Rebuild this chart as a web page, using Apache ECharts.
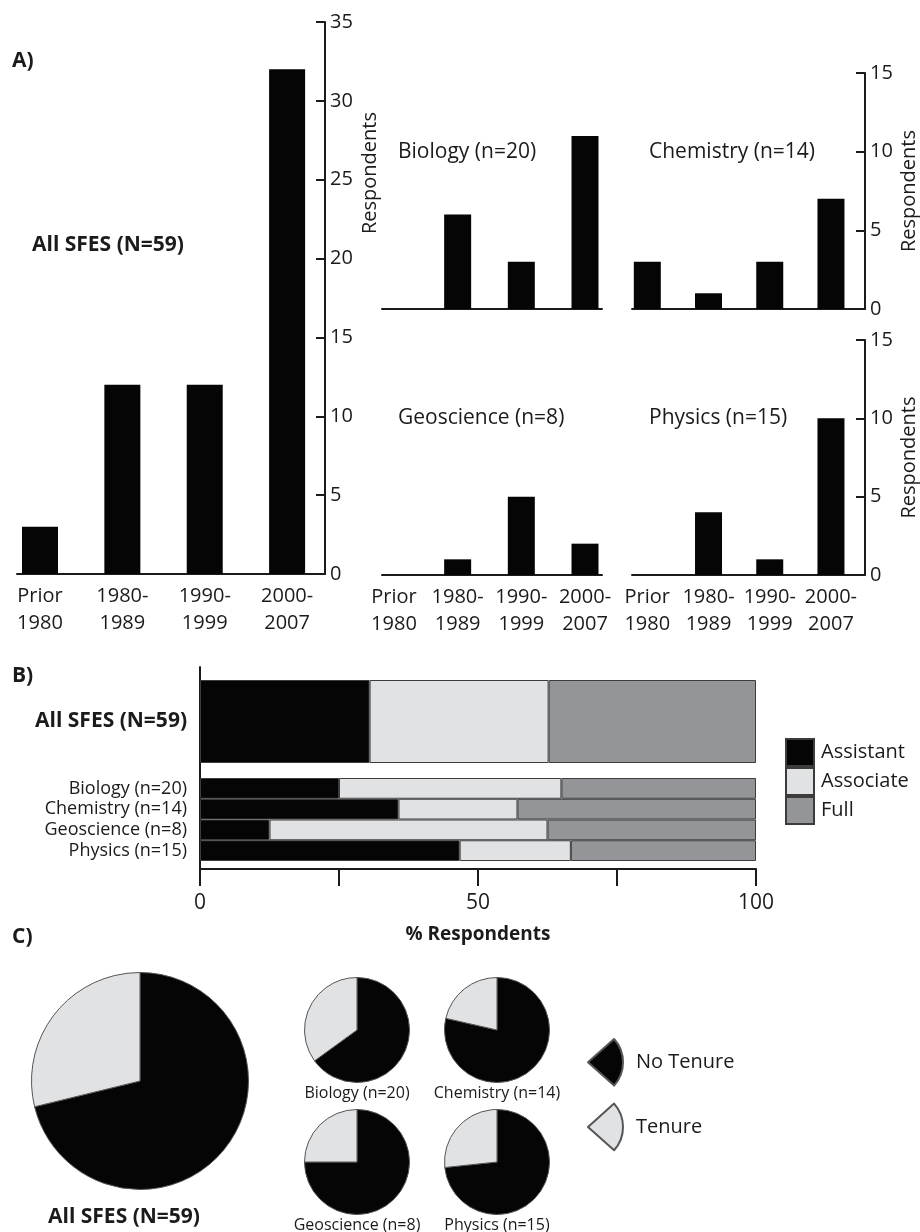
<!DOCTYPE html>
<html>
<head>
<meta charset="utf-8">
<script src="https://cdn.jsdelivr.net/npm/echarts@6/dist/echarts.min.js"></script>
<style>
html,body{margin:0;padding:0;background:#fff;}
#chart{width:920px;height:1232px;}
</style>
</head>
<body>
<div id="chart"></div>
<script>
// ---------- data ----------
const periods = ['Prior\n1980', '1980-\n1989', '1990-\n1999', '2000-\n2007'];
const allSfes = [3, 12, 12, 32];
const biology = [0, 6, 3, 11];
const chemistry = [3, 1, 3, 7];
const geoscience = [0, 1, 5, 2];
const physics = [0, 4, 1, 10];

const disciplineNames = ['Biology', 'Chemistry', 'Geoscience', 'Physics'];
const disciplineN = [20, 14, 8, 15];
const totalN = 59;

const rankNames = ['Assistant', 'Associate', 'Full'];
const assistantAll = [30.5];
const associateAll = [32.2];
const fullAll = [37.3];
const assistantDisc = [25, 35.7, 12.5, 46.7];
const associateDisc = [40, 21.4, 50, 20];
const fullDisc = [35, 42.9, 37.5, 33.3];

const tenureNames = ['No Tenure', 'Tenure'];
const tenureAll = [42, 17];
const tenureBiology = [13, 7];
const tenureChemistry = [11, 3];
const tenureGeoscience = [6, 2];
const tenurePhysics = [11, 4];

const pctTicks = [0, 50, 100];

// ---------- styling ----------
const FONT = 'Open Sans';
const INK = '#1c1a1a';
const BLACK = '#050505';
const LIGHT = '#e1e2e4';
const MID = '#939598';
const EDGE = '#3c3c3c';

const allLabel = 'All SFES (N=' + totalN + ')';
const discLabels = disciplineNames.map((d, i) => d + ' (n=' + disciplineN[i] + ')');

function periodAxis(gridIndex, min, max, showLabels) {
  return {
    type: 'value', gridIndex, min, max,
    axisLine: {show: true, onZero: true, lineStyle: {color: INK, width: 2}},
    axisTick: {show: false},
    splitLine: {show: false},
    axisLabel: {
      show: showLabels, customValues: [0, 1, 2, 3],
      formatter: v => periods[Math.round(v)] || '',
      fontSize: 20, lineHeight: 27, margin: 9, color: INK, fontFamily: FONT
    }
  };
}
function countAxis(gridIndex, max, visible, name) {
  if (!visible) return {type: 'value', gridIndex, min: 0, max, show: false};
  return {
    type: 'value', gridIndex, min: 0, max, interval: 5, position: 'right',
    axisLine: {show: true, onZero: false, lineStyle: {color: INK, width: 2}},
    axisTick: {show: true, inside: true, length: 9, lineStyle: {color: INK, width: 2}},
    splitLine: {show: false},
    axisLabel: {fontSize: 20, margin: 5, color: INK, fontFamily: FONT},
    name: name || '', nameLocation: 'middle', nameRotate: 90, nameGap: 34,
    nameTextStyle: {fontSize: 20, color: INK, fontFamily: FONT}
  };
}
function countBars(idx, values, width) {
  return {
    type: 'bar', xAxisIndex: idx, yAxisIndex: idx, barWidth: width,
    itemStyle: {color: BLACK}, silent: true,
    data: values.map((v, i) => [i, v])
  };
}
function rankBar(name, values, gridAxis, stack, color) {
  return {
    type: 'bar', name, stack, xAxisIndex: gridAxis, yAxisIndex: gridAxis,
    barWidth: '100%', barCategoryGap: '0%', silent: true,
    itemStyle: {color, borderColor: EDGE, borderWidth: 1},
    data: values
  };
}
function tenurePie(values, center, radius) {
  return {
    type: 'pie', center, radius, startAngle: 90, clockwise: true,
    label: {show: false}, labelLine: {show: false}, silent: true,
    emphasis: {disabled: true},
    itemStyle: {borderColor: '#555', borderWidth: 1},
    data: values.map((v, i) => ({name: tenureNames[i], value: v, itemStyle: {color: i === 0 ? BLACK : LIGHT}}))
  };
}
function txt(text, x, y, size, opts) {
  opts = opts || {};
  return {
    type: 'text', x, y, rotation: opts.rotation || 0, silent: true,
    style: {
      text, fontSize: size, fontFamily: FONT, fontWeight: opts.bold ? 'bold' : 'normal',
      fill: INK, align: opts.align || 'left', verticalAlign: 'middle'
    }
  };
}

const chart = echarts.init(document.getElementById('chart'), null, {renderer: 'canvas'});
const sectorIcon = 'path://M0,50 L56,0 A75,75 0 0 1 56,100 Z';

const option = {
  backgroundColor: '#ffffff',
  animation: false,
  textStyle: {fontFamily: FONT},
  grid: [
    {left: 17, top: 22, width: 308, height: 552},
    {left: 382, top: 73, width: 220, height: 236},
    {left: 632, top: 73, width: 236, height: 236},
    {left: 382, top: 340, width: 220, height: 235},
    {left: 632, top: 340, width: 236, height: 235},
    {left: 200, top: 667, width: 556, height: 202},
    {left: 200, top: 680, width: 556, height: 83},
    {left: 200, top: 778, width: 556, height: 83}
  ],
  xAxis: [
    periodAxis(0, -0.279, 3.46, true),
    periodAxis(1, -0.188, 3.267, false),
    periodAxis(2, -0.25, 3.556, false),
    periodAxis(3, -0.188, 3.267, true),
    periodAxis(4, -0.25, 3.556, true),
    {
      type: 'value', gridIndex: 5, min: 0, max: 100, interval: 25,
      axisLine: {show: true, lineStyle: {color: INK, width: 2}},
      axisTick: {show: true, length: 17, lineStyle: {color: INK, width: 2}},
      splitLine: {show: false},
      axisLabel: {
        formatter: v => (pctTicks.indexOf(v) >= 0 ? String(v) : ''),
        fontSize: 21, margin: 24, color: INK, fontFamily: FONT
      },
      name: '% Respondents', nameLocation: 'middle', nameGap: 56,
      nameTextStyle: {fontSize: 19, fontWeight: 'bold', color: INK, fontFamily: FONT}
    },
    {type: 'value', gridIndex: 6, min: 0, max: 100, show: false},
    {type: 'value', gridIndex: 7, min: 0, max: 100, show: false}
  ],
  yAxis: [
    countAxis(0, 35, true),
    countAxis(1, 15, false),
    countAxis(2, 15, true, 'Respondents'),
    countAxis(3, 15, false),
    countAxis(4, 15, true, 'Respondents'),
    {
      type: 'category', gridIndex: 5, data: [''],
      axisLine: {show: true, onZero: false, lineStyle: {color: INK, width: 2}},
      axisTick: {show: false}, axisLabel: {show: false}
    },
    {
      type: 'category', gridIndex: 6, data: [allLabel],
      axisLine: {show: false}, axisTick: {show: false},
      axisLabel: {interval: 0, fontSize: 21, fontWeight: 'bold', margin: 13, color: INK, fontFamily: FONT}
    },
    {
      type: 'category', gridIndex: 7, data: discLabels, inverse: true,
      axisLine: {show: false}, axisTick: {show: false},
      axisLabel: {interval: 0, fontSize: 18, lineHeight: 21, margin: 13, color: INK, fontFamily: FONT, hideOverlap: false}
    }
  ],
  legend: [
    {
      data: rankNames, orient: 'vertical', left: 785, top: 738, padding: 0,
      itemWidth: 28, itemHeight: 27, itemGap: 0, icon: 'rect', selectedMode: false,
      textStyle: {fontSize: 20, color: INK, fontFamily: FONT, lineHeight: 26, padding: [0, 0, 0, 2]}
    },
    {
      data: [{name: tenureNames[0], icon: sectorIcon}, {name: tenureNames[1], icon: sectorIcon}],
      orient: 'vertical', left: 587, top: 1038, padding: 0,
      itemWidth: 35, itemHeight: 49, itemGap: 16, selectedMode: false,
      textStyle: {fontSize: 20, color: INK, fontFamily: FONT, padding: [0, 0, 0, 8]}
    }
  ],
  series: [
    countBars(0, allSfes, 36),
    countBars(1, biology, 27),
    countBars(2, chemistry, 27),
    countBars(3, geoscience, 27),
    countBars(4, physics, 27),
    rankBar(rankNames[0], assistantAll, 6, 'all', BLACK),
    rankBar(rankNames[1], associateAll, 6, 'all', LIGHT),
    rankBar(rankNames[2], fullAll, 6, 'all', MID),
    rankBar(rankNames[0], assistantDisc, 7, 'disc', BLACK),
    rankBar(rankNames[1], associateDisc, 7, 'disc', LIGHT),
    rankBar(rankNames[2], fullDisc, 7, 'disc', MID),
    tenurePie(tenureAll, [140, 1081], 108.5),
    tenurePie(tenureBiology, [357, 1030], 52.5),
    tenurePie(tenureChemistry, [497, 1030], 52.5),
    tenurePie(tenureGeoscience, [357, 1162], 52.5),
    tenurePie(tenurePhysics, [497, 1162], 52.5)
  ],
  graphic: [
    txt('A)', 12, 61, 21, {bold: true}),
    txt(allLabel, 32, 245, 21, {bold: true}),
    txt('Respondents', 370, 173, 20, {align: 'center', rotation: Math.PI / 2}),
    txt(discLabels[0], 398, 152, 21),
    txt(discLabels[1], 649, 152, 21),
    txt(discLabels[2], 398, 418, 21),
    txt(discLabels[3], 649, 418, 21),
    txt('B)', 12, 676, 21, {bold: true}),
    txt('C)', 12, 937, 21, {bold: true}),
    txt(allLabel, 124, 1217, 21, {bold: true, align: 'center'}),
    txt(discLabels[0], 357, 1093, 16, {align: 'center'}),
    txt(discLabels[1], 497, 1093, 16, {align: 'center'}),
    txt(discLabels[2], 357, 1225, 16, {align: 'center'}),
    txt(discLabels[3], 497, 1225, 16, {align: 'center'})
  ]
};
chart.setOption(option);
</script>
</body>
</html>
